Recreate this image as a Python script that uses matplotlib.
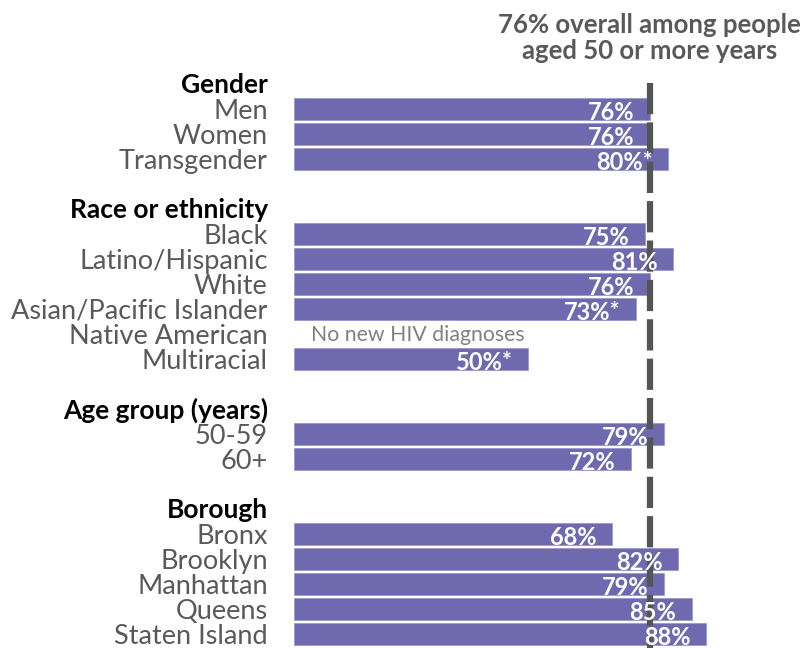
import matplotlib
matplotlib.use("Agg")
import matplotlib.pyplot as plt

plt.rcParams['font.family'] = ['Lato', 'DejaVu Sans']

groups = ['Gender', 'Race or ethnicity', 'Age group (years)', 'Borough']
categories = [
    ['Men', 'Women', 'Transgender'],
    ['Black', 'Latino/Hispanic', 'White', 'Asian/Pacific Islander', 'Native American', 'Multiracial'],
    ['50-59', '60+'],
    ['Bronx', 'Brooklyn', 'Manhattan', 'Queens', 'Staten Island'],
]
values = [
    [76, 76, 80],
    [75, 81, 76, 73, None, 50],
    [79, 72],
    [68, 82, 79, 85, 88],
]
flags = [
    ['', '', '*'],
    ['', '', '', '*', '', '*'],
    ['', ''],
    ['', '', '', '', ''],
]
overall = 76
overall_label = '76% overall among people\naged 50 or more years'
no_data_text = 'No new HIV diagnoses'

bar_color = '#6f6aaf'
label_gray = '#595959'

W, H = 805, 648
fig = plt.figure(figsize=(W / 100, H / 100), dpi=100)
ax = fig.add_axes([294 / W, 0, 468 / W, 1])
# row index i sits at pixel 84 + 25*i
ax.set_ylim((H - 84) / 25, -84 / 25)
ax.set_xlim(0, 100)
ax.axis('off')

lab_x = -5.6
row = 0
for g, cats, vals, fl in zip(groups, categories, values, flags):
    ax.text(lab_x, row + 0.04, g, ha='right', va='center', fontsize=19,
            fontweight='bold', color='black', clip_on=False)
    row += 1
    for c, v, f in zip(cats, vals, fl):
        ax.text(lab_x, row + 0.1, c, ha='right', va='center', fontsize=19.5,
                color=label_gray, clip_on=False)
        if v is None:
            ax.text(3.6, row + 0.06, no_data_text, ha='left', va='center',
                    fontsize=15.3, color='#808080')
        else:
            ax.barh(row, v, height=0.88, color=bar_color, edgecolor='#9c98cc',
                    linewidth=0.6, zorder=2)
            ax.text(v - 3.3, row + 0.14, f'{v}%{f}', ha='right', va='center',
                    fontsize=17, fontweight='bold', color='white', zorder=4)
        row += 1
    row += 1

ax.plot([overall, overall], [-0.04, (H - 84) / 25], color='#555555', lw=4.5,
        dashes=(5, 1.3), zorder=3, solid_capstyle='butt', clip_on=False)
ax.text(overall, -1.85, overall_label, ha='center', va='center', fontsize=18.5,
        fontweight='bold', color=label_gray, linespacing=1.1, clip_on=False)

fig.savefig('out.png', dpi=100)
